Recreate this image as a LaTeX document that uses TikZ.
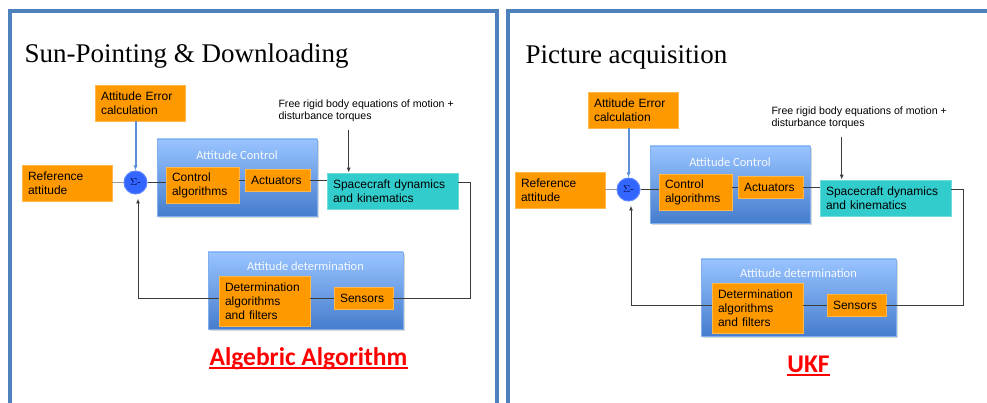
\documentclass[tikz,border=0pt]{standalone}
\usepackage{fontspec}
\setmainfont{Liberation Serif}
\setsansfont{Liberation Sans}
\newfontfamily\calfont{Carlito}
\usetikzlibrary{arrows.meta,shadows}

\definecolor{boxorange}{RGB}{255,153,0}
\definecolor{dynteal}{RGB}{51,204,204}
\definecolor{gradtop}{RGB}{153,196,255}
\definecolor{gradbot}{RGB}{70,125,205}
\definecolor{sumblue}{RGB}{51,102,255}
\definecolor{framebl}{RGB}{79,129,189}
\definecolor{errline}{RGB}{91,143,214}
\definecolor{wiregray}{RGB}{60,60,60}
\definecolor{algred}{RGB}{255,0,0}

\newcommand{\sumlabel}{$\Sigma$-}
\tikzset{
  slideframe/.style={draw=framebl, line width=4pt},
  slidetitle/.style={font=\rmfamily\fontsize{27}{30}\selectfont, inner sep=0pt},
  orangebox/.style={draw=boxorange!70!white, fill=boxorange, line width=0.6pt,
    font=\sffamily\fontsize{12}{14}\selectfont, align=left, inner xsep=6pt, inner ysep=0pt},
  tealbox/.style={orangebox, draw=dynteal!70!white, fill=dynteal},
  groupbox/.style={rectangle, top color=gradtop, bottom color=gradbot,
    draw=gradtop!70!gradbot, line width=0.6pt,
    drop shadow={opacity=0.3, shadow xshift=1.5pt, shadow yshift=-2pt}},
  grouptitle/.style={font=\calfont\fontsize{12.5}{14}\selectfont, text=white!90!gradtop, inner sep=0pt},
  sumnode/.style={circle, fill=sumblue, draw=sumblue!80!white, minimum size=23pt, inner sep=0pt,
    font=\fontsize{10}{10}\selectfont, text=black!75!blue},
  wire/.style={draw=wiregray, line width=1pt},
  notetext/.style={font=\sffamily\fontsize{10.6}{12.8}\selectfont, align=left, inner sep=0pt},
  algolabel/.style={font=\calfont\bfseries\fontsize{25.5}{28}\selectfont, text=algred, inner sep=0pt}
}

\begin{document}
\begin{tikzpicture}[x=1pt, y=-1pt, line width=1pt, >={Latex[length=5pt,width=4pt]}]
  \useasboundingbox (0,0) rectangle (987,403);
  \clip (0,0) rectangle (987,403);
  \fill[white] (0,0) rectangle (987,403);

  % slide frames
  \draw[slideframe] (10,11) rectangle (497,430);
  \draw[slideframe] (508,11) rectangle (1010,430);

  \foreach \p/\dx/\dy/\tx/\ty/\ttl/\lx/\alg in {
  L/0/0/24/63/{Sun-Pointing \& Downloading}/308.5/{Algebric Algorithm},
  R/493/7/32/57/{Picture acquisition}/315.5/{UKF}} {
  \begin{scope}[shift={(\dx,\dy)}, name prefix=\p-]
    \node[slidetitle, anchor=base west] (title) at (\tx,\ty) {\ttl};

    % blocks
    \node[orangebox, text width=78pt, minimum height=36pt] (err) at (140,103) {Attitude Error\\calculation};
    \node[orangebox, text width=78pt, minimum height=36pt] (ref) at (67,183) {Reference\\attitude};
    \node[sumnode] (sum) at (135.5,182.5) {\sumlabel};

    \node[groupbox, minimum width=160pt, minimum height=77pt] (ctrlbox) at (237,177.5) {};
    \node[grouptitle] (ctrltitle) at (237,155) {Attitude Control};
    \node[orangebox, text width=61pt, minimum height=36pt] (calg) at (202.5,185) {Control\\algorithms};
    \node[orangebox, text width=53pt, minimum height=22pt] (act) at (277.5,180.5) {Actuators};

    \node[tealbox, text width=119pt, minimum height=36pt] (dyn) at (392.5,191) {Spacecraft dynamics\\and kinematics};
    \node[notetext, anchor=north west] (note) at (278,99) {Free rigid body equations of motion +\\disturbance torques};

    \node[groupbox, minimum width=195pt, minimum height=77pt] (detbox) at (305.5,290.5) {};
    \node[grouptitle] (dettitle) at (305.5,266) {Attitude determination};
    \node[orangebox, text width=79pt, minimum height=50pt] (detalg) at (264.5,301) {Determination\\algorithms\\and filters};
    \node[orangebox, text width=47pt, minimum height=22pt] (sens) at (363.5,298) {Sensors};

    % connectors
    \draw[wire, draw=gray!80] (ref.east |- sum) -- (sum.west);
    \draw[wire] (sum.east) -- (sum.east -| calg.west);
    \draw[wire] (act.west) -- (act.west -| calg.east);
    \draw[wire] (act.east) -- (act.east -| dyn.west);
    \draw[errline, line width=2pt, ->] (err.south -| sum) -- (sum.north);
    \draw[wire, ->, shorten <=7pt] ([xshift=22pt]dyn.north west |- note.south) -- ([xshift=22pt]dyn.north west);

    % feedback loop
    \draw[wire] (dyn.east |- sum) -- ++(12,0) |- (sens.east);
    \draw[wire] (sens.west) -- (sens.west -| detalg.east);
    \draw[wire, ->, shorten >=4pt] (detalg.west |- sens) -| ([xshift=2.5pt]sum.south);

    \node[algolabel, anchor=base] (algo) at (\lx,365) {\alg};
    \draw[algred, line width=2pt] ([yshift=-2.5pt]algo.base west) -- ([yshift=-2.5pt]algo.base east);
  \end{scope}
  }
\end{tikzpicture}
\end{document}
